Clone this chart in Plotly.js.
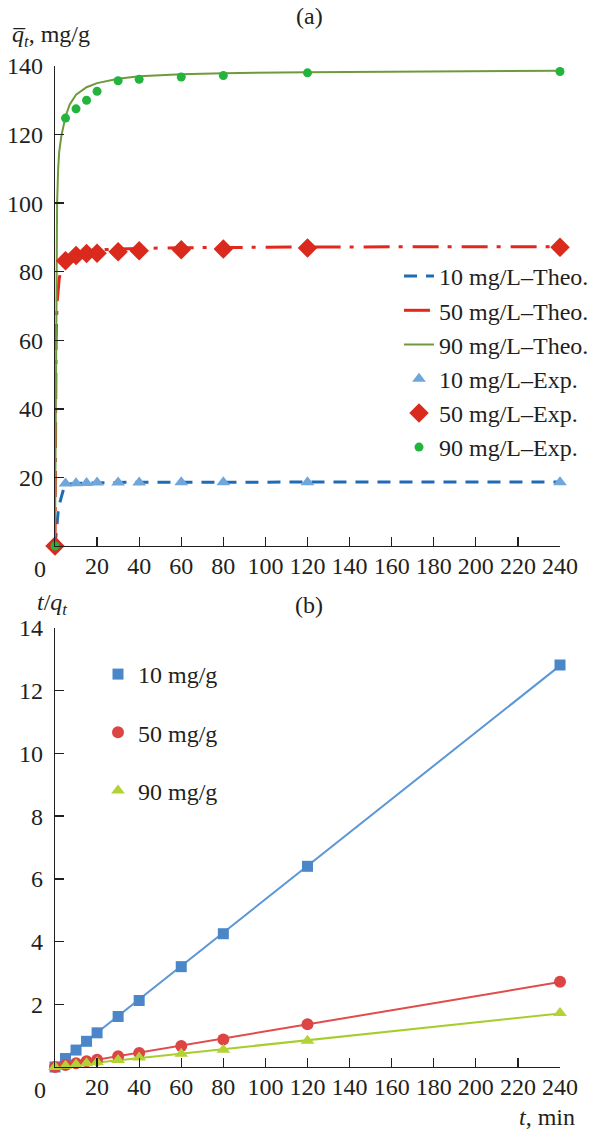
<!DOCTYPE html>
<html>
<head>
<meta charset="utf-8">
<script src="https://cdn.plot.ly/plotly-3.0.1.min.js"></script>
<style>
  html, body { margin: 0; padding: 0; background: #fff; }
  #chart { width: 594px; height: 1129px; }
</style>
</head>
<body>
<div id="chart"></div>
<script>
// ---------- Data ----------
// Panel (a): experimental points
const tExp   = [0, 5, 10, 15, 20, 30, 40, 60, 80, 120, 240];
const exp10  = [0, 18.2, 18.3, 18.4, 18.5, 18.5, 18.5, 18.6, 18.6, 18.6, 18.6];
const exp50  = [0, 83.2, 84.7, 85.3, 85.4, 85.8, 86.1, 86.4, 86.6, 86.9, 87.1];
const exp90  = [0, 124.8, 127.5, 130.0, 132.6, 135.7, 136.1, 136.8, 137.2, 138.0, 138.4];

// Panel (a): theoretical curves
const tTheo  = [0, 0.5, 1, 1.5, 2, 3, 4, 5, 7, 10, 15, 20, 30, 40, 60, 80, 120, 160, 200, 240];
const theo10 = [0, 4, 7.5, 10, 12, 14.5, 16.5, 17.6, 18.1, 18.3, 18.4, 18.5, 18.55, 18.6, 18.62, 18.65, 18.67, 18.68, 18.69, 18.7];
const theo50 = [0, 60, 71, 75.5, 78, 80.8, 82.4, 83.3, 84.6, 85.5, 86.1, 86.4, 86.7, 86.8, 87.0, 87.1, 87.2, 87.25, 87.3, 87.3];
const theo90 = [0, 75, 100, 110, 115, 119.5, 122.5, 125.3, 128.8, 131.6, 133.8, 135.0, 136.3, 137.0, 137.6, 137.9, 138.2, 138.4, 138.5, 138.6];

// Panel (b): t/q_t points
const tB    = [0, 5, 10, 15, 20, 30, 40, 60, 80, 120, 240];
const tq10  = [0, 0.27, 0.54, 0.82, 1.09, 1.61, 2.12, 3.20, 4.25, 6.40, 12.82];
const tq50  = [0, 0.06, 0.12, 0.18, 0.23, 0.34, 0.45, 0.67, 0.88, 1.36, 2.72];
const tq90  = [0, 0.04, 0.08, 0.12, 0.15, 0.22, 0.30, 0.42, 0.55, 0.84, 1.72];
// Panel (b): linear fits
const fitT  = [0, 240];
const fit10 = [0.03, 12.80];
const fit50 = [0.01, 2.71];
const fit90 = [0.00, 1.71];

// Labels
const namesTheo = ['10 mg/L\u2013Theo.', '50 mg/L\u2013Theo.', '90 mg/L\u2013Theo.'];
const namesExp  = ['10 mg/L\u2013Exp.', '50 mg/L\u2013Exp.', '90 mg/L\u2013Exp.'];
const namesB    = ['10 mg/g', '50 mg/g', '90 mg/g'];
const xTicks    = [20, 40, 60, 80, 100, 120, 140, 160, 180, 200, 220, 240];
const yTicksA   = [20, 40, 60, 80, 100, 120, 140];
const yTicksB   = [2, 4, 6, 8, 10, 12, 14];

// ---------- Layout helpers ----------
const W = 594, H = 1129, ML = 55, MR = 33;
const px = x => (x - ML) / (W - ML - MR);
const py = y => (H - y) / H;
const FONT = 'Liberation Serif, Times New Roman, serif';
const TXT = '#231f20';

const traces = [
  {x: tTheo, y: theo10, mode: 'lines', name: namesTheo[0], xaxis: 'x', yaxis: 'y',
   line: {color: '#1f6cb4', width: 3, dash: '13px,9px'}},
  {x: tTheo, y: theo50, mode: 'lines', name: namesTheo[1], xaxis: 'x', yaxis: 'y',
   line: {color: '#e2271c', width: 3, dash: '26px,9px,4px,10px'}},
  {x: tTheo, y: theo90, mode: 'lines', name: namesTheo[2], xaxis: 'x', yaxis: 'y',
   line: {color: '#6f9a3c', width: 2}},
  {x: tExp, y: exp10, mode: 'markers', name: namesExp[0], xaxis: 'x', yaxis: 'y', cliponaxis: false,
   marker: {symbol: 'triangle-up', size: 12, color: '#6fa6dc'}},
  {x: tExp, y: exp50, mode: 'markers', name: namesExp[1], xaxis: 'x', yaxis: 'y', cliponaxis: false,
   marker: {symbol: 'diamond', size: 15, color: '#d92a1d'}},
  {x: tExp, y: exp90, mode: 'markers', name: namesExp[2], xaxis: 'x', yaxis: 'y', cliponaxis: false,
   marker: {symbol: 'circle', size: 9, color: '#22b43c'}},

  {x: fitT, y: fit10, mode: 'lines', showlegend: false, xaxis: 'x2', yaxis: 'y2',
   line: {color: '#5b96d6', width: 2}},
  {x: fitT, y: fit50, mode: 'lines', showlegend: false, xaxis: 'x2', yaxis: 'y2',
   line: {color: '#e04b4b', width: 2}},
  {x: fitT, y: fit90, mode: 'lines', showlegend: false, xaxis: 'x2', yaxis: 'y2',
   line: {color: '#a8cc2a', width: 2}},
  {x: tB, y: tq10, mode: 'markers', name: namesB[0], xaxis: 'x2', yaxis: 'y2', cliponaxis: false,
   legend: 'legend2', legendgroup: 'b1', marker: {symbol: 'square', size: 11, color: '#4a86c8'}},
  {x: tB, y: tq50, mode: 'markers', name: namesB[1], xaxis: 'x2', yaxis: 'y2', cliponaxis: false,
   legend: 'legend2', legendgroup: 'b2', marker: {symbol: 'circle', size: 12, color: '#dd4444'}},
  {x: tB, y: tq90, mode: 'markers', name: namesB[2], xaxis: 'x2', yaxis: 'y2', cliponaxis: false,
   legend: 'legend2', legendgroup: 'b3', marker: {symbol: 'triangle-up', size: 12, color: '#b2d235'}}
];

const axBase = {
  showgrid: false, zeroline: false, showline: true, linecolor: '#231f20', linewidth: 1.3,
  ticks: 'inside', ticklen: 9, tickwidth: 1.3, tickcolor: '#231f20',
  tickfont: {family: FONT, size: 24, color: TXT}, fixedrange: true, automargin: false
};

const layout = {
  width: W, height: H,
  margin: {l: ML, r: MR, t: 0, b: 0},
  paper_bgcolor: '#fff', plot_bgcolor: '#fff',
  font: {family: FONT, size: 24, color: TXT},
  xaxis: Object.assign({}, axBase, {domain: [0, 1], range: [0, 240], anchor: 'y',
    tickmode: 'array', tickvals: xTicks, ticklabelstandoff: -2}),
  yaxis: Object.assign({}, axBase, {domain: [py(546), py(66)], range: [0, 140], anchor: 'x',
    tickmode: 'array', tickvals: yTicksA, ticklabelstandoff: 6}),
  xaxis2: Object.assign({}, axBase, {domain: [0, 1], range: [0, 240], anchor: 'y2',
    tickmode: 'array', tickvals: xTicks, ticklabelstandoff: -2}),
  yaxis2: Object.assign({}, axBase, {domain: [py(1067), py(628)], range: [0, 14], anchor: 'x2',
    tickmode: 'array', tickvals: yTicksB, ticklabelstandoff: 6}),
  legend: {x: px(400), y: py(254), xanchor: 'left', yanchor: 'top', bgcolor: 'rgba(0,0,0,0)',
    font: {family: FONT, size: 24, color: TXT}, tracegroupgap: 0, itemwidth: 30},
  legend2: {x: px(98), y: py(652), xanchor: 'left', yanchor: 'top', bgcolor: 'rgba(0,0,0,0)',
    font: {family: FONT, size: 24, color: TXT}, tracegroupgap: 24, itemwidth: 30},
  showlegend: true,
  annotations: [
    {text: '(a)', xref: 'paper', yref: 'paper', x: px(310), y: py(16), showarrow: false,
     xanchor: 'center', yanchor: 'middle', font: {family: FONT, size: 24, color: TXT}},
    {text: '(b)', xref: 'paper', yref: 'paper', x: px(310), y: py(605), showarrow: false,
     xanchor: 'center', yanchor: 'middle', font: {family: FONT, size: 24, color: TXT}},
    {text: '<i>q\u0305<sub>t</sub></i>, mg/g', xref: 'paper', yref: 'paper', x: px(10), y: py(36), showarrow: false,
     xanchor: 'left', yanchor: 'middle', font: {family: FONT, size: 24, color: TXT}},
    {text: '<i>t</i>/<i>q<sub>t</sub></i>', xref: 'paper', yref: 'paper', x: px(35), y: py(604), showarrow: false,
     xanchor: 'left', yanchor: 'middle', font: {family: FONT, size: 24, color: TXT}},
    {text: '<i>t</i>, min', xref: 'paper', yref: 'paper', x: px(578), y: py(1117), showarrow: false,
     xanchor: 'right', yanchor: 'middle', font: {family: FONT, size: 24, color: TXT}},
    {text: '0', xref: 'x', yref: 'y', x: 0, y: 0, xshift: -15, yshift: -23, showarrow: false,
     xanchor: 'center', yanchor: 'middle', font: {family: FONT, size: 24, color: TXT}},
    {text: '0', xref: 'x2', yref: 'y2', x: 0, y: 0, xshift: -15, yshift: -23, showarrow: false,
     xanchor: 'center', yanchor: 'middle', font: {family: FONT, size: 24, color: TXT}}
  ]
};

Plotly.newPlot('chart', traces, layout, {displayModeBar: false, staticPlot: true});
</script>
</body>
</html>
